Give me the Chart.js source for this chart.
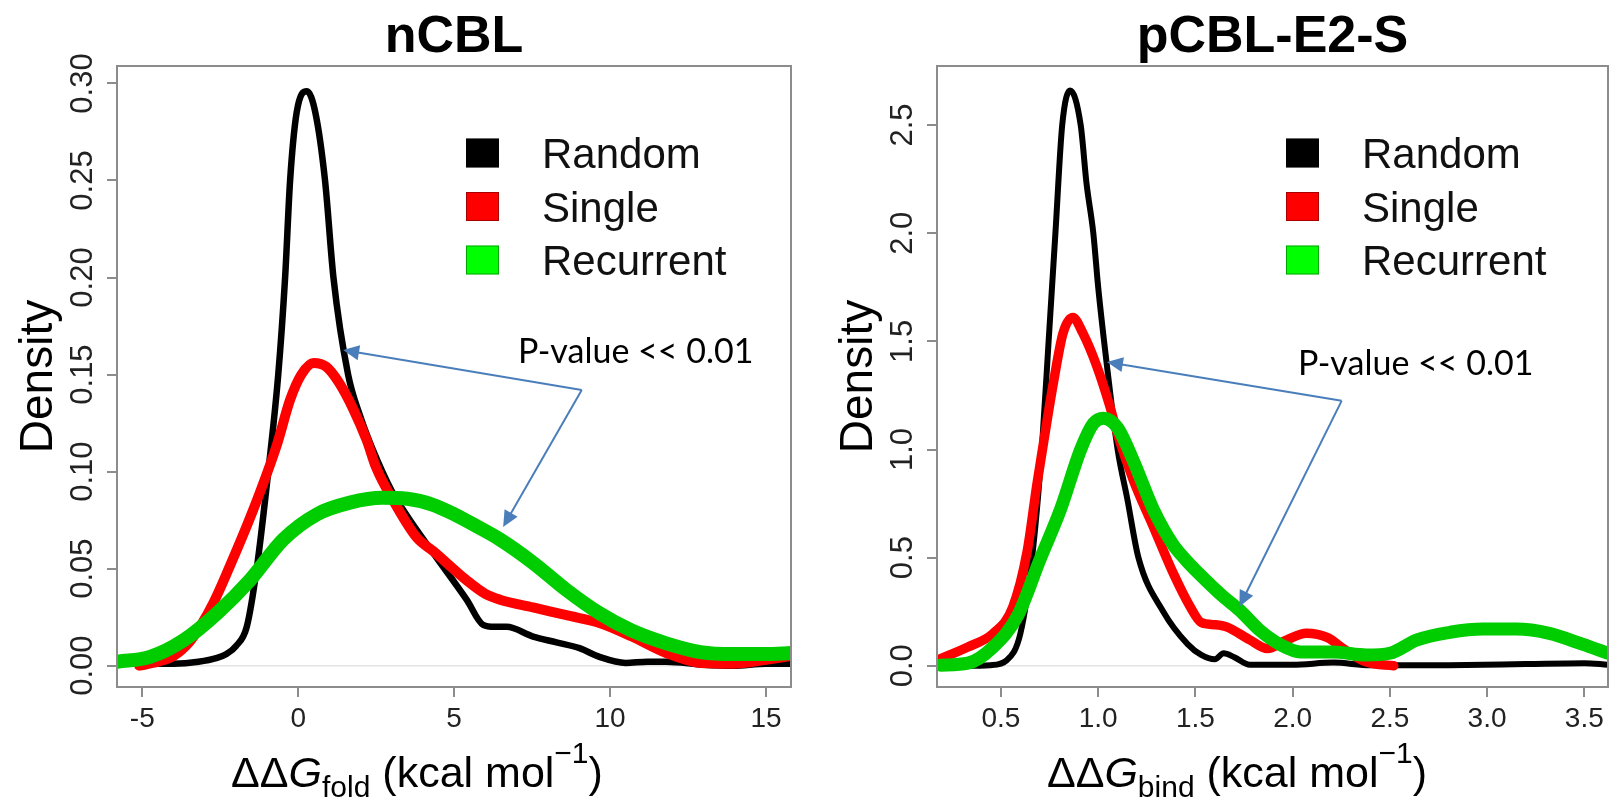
<!DOCTYPE html>
<html>
<head>
<meta charset="utf-8">
<script src="https://cdn.jsdelivr.net/npm/chart.js@4.4.0/dist/chart.umd.min.js"></script>
<style>
html,body{margin:0;padding:0;background:#fff;}
#wrap{position:relative;width:1613px;height:799px;overflow:hidden;}
#c1{position:absolute;left:0;top:0;}
#c2{position:absolute;left:806px;top:0;}
</style>
</head>
<body>
<div id="wrap">
<canvas id="c1" width="806" height="799"></canvas>
<canvas id="c2" width="807" height="799"></canvas>
</div>
<script>
// ---------- DATA ----------
const seriesNames = ['Random', 'Single', 'Recurrent'];
const lineColors = ['#000000', '#ff0000', '#00cd00'];
const boxColors  = ['#000000', '#ff0000', '#00ff00'];

// nCBL (ddG fold)
const nTitle = 'nCBL';
const nRandomX = [-5.8, -4.0, -3.2, -2.6, -2.3, -2.0, -1.65, -1.33, -0.96, -0.64, -0.42, -0.26, -0.05, 0.28, 0.55, 0.86, 1.13, 1.6, 2.0, 2.4, 3.0, 3.5, 4.33, 5.4, 5.93, 6.3, 6.68, 7.53, 8.28, 9.02, 9.66, 10.5, 11.2, 11.8, 13.0, 13.95, 15.0, 15.8];
const nRandomY = [0.001, 0.001, 0.002, 0.004, 0.006, 0.010, 0.020, 0.050, 0.100, 0.150, 0.200, 0.250, 0.285, 0.296, 0.285, 0.250, 0.200, 0.150, 0.128, 0.111, 0.090, 0.077, 0.058, 0.034, 0.021, 0.020, 0.020, 0.015, 0.012, 0.009, 0.0045, 0.0014, 0.002, 0.002, 0.0005, 0.000, 0.001, 0.001];
const nSingleX = [-5.1, -4.5, -4.0, -3.5, -3.15, -2.7, -2.28, -1.45, -0.68, -0.26, 0.1, 0.5, 0.9, 1.3, 1.77, 2.2, 2.5, 3.05, 3.8, 4.33, 5.4, 6.0, 6.47, 7.53, 8.6, 9.66, 10.7, 11.8, 12.9, 13.95, 15.0, 15.8];
const nSingleY = [0.000, 0.002, 0.005, 0.012, 0.020, 0.033, 0.048, 0.080, 0.114, 0.137, 0.150, 0.156, 0.154, 0.146, 0.132, 0.116, 0.102, 0.085, 0.066, 0.059, 0.044, 0.037, 0.034, 0.030, 0.026, 0.022, 0.015, 0.0065, 0.0014, 0.001, 0.003, 0.005];
const nRecurrentX = [-5.8, -4.75, -3.68, -2.6, -1.55, -0.48, 0.6, 1.66, 2.7, 3.5, 4.3, 5.0, 5.7, 6.47, 7.53, 8.6, 9.66, 10.7, 11.8, 12.9, 13.95, 15.0, 15.8];
const nRecurrentY = [0.002, 0.0045, 0.013, 0.027, 0.044, 0.065, 0.078, 0.084, 0.0865, 0.086, 0.083, 0.078, 0.072, 0.065, 0.053, 0.039, 0.027, 0.018, 0.0115, 0.007, 0.006, 0.006, 0.0065];
const nXRange = [-5.81, 15.8];
const nYRange = [-0.011, 0.309];
const nXTicks = [-5, 0, 5, 10, 15];
const nXTickLabels = ['-5', '0', '5', '10', '15'];
const nYTicks = [0, 0.05, 0.10, 0.15, 0.20, 0.25, 0.30];
const nYTickLabels = ['0.00', '0.05', '0.10', '0.15', '0.20', '0.25', '0.30'];
const nXSub = 'fold';

// pCBL-E2-S (ddG bind)
const pTitle = 'pCBL-E2-S';
const pRandomX = [0.17, 0.33, 0.445, 0.53, 0.6, 0.66, 0.71, 0.745, 0.78, 0.815, 0.856, 0.91, 0.94, 0.975, 1.0, 1.05, 1.10, 1.15, 1.207, 1.335, 1.46, 1.53, 1.6, 1.645, 1.7, 1.78, 2.0, 2.21, 2.4, 2.8, 3.2, 3.5, 3.62];
const pRandomY = [0.0, 0.0, 0.003, 0.026, 0.15, 0.5, 1.0, 1.5, 2.0, 2.5, 2.66, 2.5, 2.23, 2.0, 1.75, 1.35, 1.0, 0.77, 0.5, 0.25, 0.1, 0.05, 0.03, 0.058, 0.04, 0.005, 0.005, 0.015, 0.002, 0.003, 0.008, 0.012, 0.005];
const pSingleX = [0.17, 0.33, 0.46, 0.56, 0.635, 0.685, 0.74, 0.77, 0.82, 0.87, 0.92, 0.995, 1.06, 1.1, 1.18, 1.285, 1.385, 1.475, 1.53, 1.6, 1.66, 1.78, 1.87, 1.97, 2.07, 2.18, 2.26, 2.38, 2.52];
const pSingleY = [0.026, 0.087, 0.15, 0.27, 0.53, 0.84, 1.15, 1.31, 1.54, 1.61, 1.54, 1.38, 1.2, 1.07, 0.86, 0.64, 0.43, 0.27, 0.2, 0.19, 0.18, 0.12, 0.08, 0.12, 0.15, 0.13, 0.08, 0.017, 0.0];
const pRecurrentX = [0.19, 0.33, 0.46, 0.585, 0.70, 0.805, 0.91, 0.975, 1.027, 1.1, 1.18, 1.285, 1.385, 1.45, 1.525, 1.63, 1.73, 1.83, 1.94, 2.04, 2.21, 2.38, 2.5, 2.64, 2.81, 2.98, 3.15, 3.32, 3.49, 3.62];
const pRecurrentY = [0.003, 0.012, 0.087, 0.23, 0.49, 0.72, 1.0, 1.12, 1.145, 1.1, 0.95, 0.72, 0.56, 0.49, 0.42, 0.33, 0.255, 0.165, 0.096, 0.064, 0.064, 0.05, 0.058, 0.12, 0.155, 0.17, 0.17, 0.15, 0.10, 0.058];
const pXRange = [0.171, 3.622];
const pYRange = [-0.098, 2.773];
const pXTicks = [0.5, 1.0, 1.5, 2.0, 2.5, 3.0, 3.5];
const pXTickLabels = ['0.5', '1.0', '1.5', '2.0', '2.5', '3.0', '3.5'];
const pYTicks = [0, 0.5, 1.0, 1.5, 2.0, 2.5];
const pYTickLabels = ['0.0', '0.5', '1.0', '1.5', '2.0', '2.5'];
const pXSub = 'bind';

// annotations (data coordinates)
const pValueText = 'P-value << 0.01';
const nAnnot = { text: [7.05, 0.156], vertex: [9.09, 0.142], tips: [[1.44, 0.1626], [6.57, 0.0715]] };
const pAnnot = { text: [2.028, 1.344], vertex: [2.252, 1.225], tips: [[1.045, 1.404], [1.726, 0.273]] };

const yLabel = 'Density';

// ---------- RENDER ----------
const FONT = '"Liberation Sans", Arial, Helvetica, sans-serif';

function drawArrowHead(ctx, fx, fy, tx, ty) {
  const ang = Math.atan2(ty - fy, tx - fx), L = 16, W = 7.5;
  const c = Math.cos(ang), s = Math.sin(ang);
  ctx.beginPath();
  ctx.moveTo(tx, ty);
  ctx.lineTo(tx - L * c + W * s, ty - L * s - W * c);
  ctx.lineTo(tx - L * c - W * s, ty - L * s + W * c);
  ctx.closePath();
  ctx.fill();
}

function makeChart(id, cfg) {
  const datasets = [
    { label: seriesNames[0], data: cfg.rx.map((x, i) => ({ x, y: cfg.ry[i] })), borderColor: lineColors[0], borderWidth: cfg.lw[0], order: 3 },
    { label: seriesNames[1], data: cfg.sx.map((x, i) => ({ x, y: cfg.sy[i] })), borderColor: lineColors[1], borderWidth: cfg.lw[1], order: 2 },
    { label: seriesNames[2], data: cfg.cx.map((x, i) => ({ x, y: cfg.cy[i] })), borderColor: lineColors[2], borderWidth: cfg.lw[2], order: 1 }
  ].map(d => Object.assign(d, { pointRadius: 0, fill: false, cubicInterpolationMode: 'monotone', clip: 0, borderJoinStyle: 'round', borderCapStyle: 'round' }));

  const decor = {
    id: 'decor',
    beforeDatasetsDraw(chart) {
      const { ctx, chartArea: a, scales: { y } } = chart;
      const py = y.getPixelForValue(0);
      ctx.save();
      ctx.strokeStyle = '#e4e4e4'; ctx.lineWidth = 1.5;
      ctx.beginPath(); ctx.moveTo(a.left, py); ctx.lineTo(a.right, py); ctx.stroke();
      ctx.restore();
    },
    afterDraw(chart) {
      const { ctx, chartArea: a, scales: { x, y } } = chart;
      ctx.save();
      // box
      ctx.strokeStyle = '#8c8c8c'; ctx.lineWidth = 2;
      ctx.strokeRect(a.left, a.top, a.right - a.left, a.bottom - a.top);
      // title
      ctx.fillStyle = '#000';
      ctx.font = 'bold 52px ' + FONT;
      ctx.textAlign = 'center'; ctx.textBaseline = 'alphabetic';
      ctx.fillText(cfg.title, (a.left + a.right) / 2, 52);
      // x tick labels
      ctx.fillStyle = '#222';
      ctx.font = '28px ' + FONT;
      x.ticks.forEach((t, i) => {
        ctx.fillText(cfg.xTickLabels[i], x.getPixelForValue(t.value), a.bottom + 40);
      });
      // y tick labels (rotated)
      ctx.font = '31px ' + FONT;
      y.ticks.forEach((t, i) => {
        const py = y.getPixelForValue(t.value);
        ctx.save();
        ctx.translate(a.left - 25, py);
        ctx.rotate(-Math.PI / 2);
        ctx.textAlign = 'center';
        ctx.fillText(cfg.yTickLabels[i], 0, 0);
        ctx.restore();
      });
      // y axis title
      ctx.fillStyle = '#000';
      ctx.font = '46px ' + FONT;
      ctx.save();
      ctx.translate(a.left - 65, (a.top + a.bottom) / 2);
      ctx.rotate(-Math.PI / 2);
      ctx.textAlign = 'center';
      ctx.fillText(yLabel, 0, 0);
      ctx.restore();
      // x axis title
      const big = 43, small = 30;
      const parts = [
        { t: '\u0394\u0394', f: big + 'px ' + FONT, dy: 0 },
        { t: 'G', f: 'italic ' + big + 'px ' + FONT, dy: 0 },
        { t: cfg.sub, f: small + 'px ' + FONT, dy: 10 },
        { t: ' (kcal mol', f: big + 'px ' + FONT, dy: 0 },
        { t: '\u22121', f: small + 'px ' + FONT, dy: -24 },
        { t: ')', f: big + 'px ' + FONT, dy: 0 }
      ];
      ctx.textAlign = 'left';
      let tw = 0;
      parts.forEach(p => { ctx.font = p.f; p.w = ctx.measureText(p.t).width; tw += p.w; });
      let xx = a.left + 300 - tw / 2;
      parts.forEach(p => { ctx.font = p.f; ctx.fillText(p.t, xx, 787 + p.dy); xx += p.w; });
      // legend
      const L = a.left + 349;
      chart.data.datasets.forEach((d, i) => {
        const cy = a.top + 87 + i * 53.5;
        ctx.fillStyle = boxColors[i];
        ctx.fillRect(L, cy - 14.5, 33, 29);
        ctx.strokeStyle = 'rgba(0,0,0,0.35)'; ctx.lineWidth = 1;
        ctx.strokeRect(L + 0.5, cy - 14, 32, 28);
        ctx.fillStyle = '#111';
        ctx.font = '42px ' + FONT;
        ctx.textBaseline = 'alphabetic';
        ctx.fillText(d.label, L + 76, cy + 15);
      });
      // annotation
      const an = cfg.annot;
      const vx = x.getPixelForValue(an.vertex[0]), vy = y.getPixelForValue(an.vertex[1]);
      ctx.strokeStyle = '#4a7ebb'; ctx.fillStyle = '#4a7ebb'; ctx.lineWidth = 2;
      an.tips.forEach(tp => {
        const tx = x.getPixelForValue(tp[0]), ty = y.getPixelForValue(tp[1]);
        const ang = Math.atan2(ty - vy, tx - vx);
        ctx.beginPath(); ctx.moveTo(vx, vy); ctx.lineTo(tx - 12 * Math.cos(ang), ty - 12 * Math.sin(ang)); ctx.stroke();
        drawArrowHead(ctx, vx, vy, tx, ty);
      });
      ctx.fillStyle = '#000';
      ctx.font = '34px Lato, "Open Sans", sans-serif';
      ctx.textAlign = 'left';
      ctx.fillText(pValueText, x.getPixelForValue(an.text[0]), y.getPixelForValue(an.text[1]));
      ctx.restore();
    }
  };

  const gridOpt = { drawOnChartArea: false, drawTicks: true, tickLength: 10, color: '#8c8c8c', lineWidth: 2 };
  return new Chart(document.getElementById(id), {
    type: 'line',
    data: { datasets },
    options: {
      responsive: false,
      animation: false,
      layout: { padding: { top: 66, right: cfg.padRight, left: 0, bottom: 0 } },
      plugins: { legend: { display: false }, tooltip: { enabled: false }, title: { display: false } },
      scales: {
        x: {
          type: 'linear', min: cfg.xr[0], max: cfg.xr[1],
          afterBuildTicks: s => { s.ticks = cfg.xTicks.map(v => ({ value: v })); },
          afterFit: s => { s.height = 112; },
          grid: gridOpt, border: { display: false },
          ticks: { display: false }
        },
        y: {
          type: 'linear', min: cfg.yr[0], max: cfg.yr[1],
          afterBuildTicks: s => { s.ticks = cfg.yTicks.map(v => ({ value: v })); },
          afterFit: s => { s.width = cfg.yWidth; },
          grid: gridOpt, border: { display: false },
          ticks: { display: false }
        }
      }
    },
    plugins: [decor]
  });
}

makeChart('c1', {
  title: nTitle, sub: nXSub,
  rx: nRandomX, ry: nRandomY, sx: nSingleX, sy: nSingleY, cx: nRecurrentX, cy: nRecurrentY,
  lw: [6.5, 10, 14],
  xr: nXRange, yr: nYRange, xTicks: nXTicks, xTickLabels: nXTickLabels, yTicks: nYTicks, yTickLabels: nYTickLabels,
  yWidth: 117, padRight: 15, annot: nAnnot
});
makeChart('c2', {
  title: pTitle, sub: pXSub,
  rx: pRandomX, ry: pRandomY, sx: pSingleX, sy: pSingleY, cx: pRecurrentX, cy: pRecurrentY,
  lw: [6, 9.5, 13],
  xr: pXRange, yr: pYRange, xTicks: pXTicks, xTickLabels: pXTickLabels, yTicks: pYTicks, yTickLabels: pYTickLabels,
  yWidth: 131, padRight: 5, annot: pAnnot
});
</script>
</body>
</html>
